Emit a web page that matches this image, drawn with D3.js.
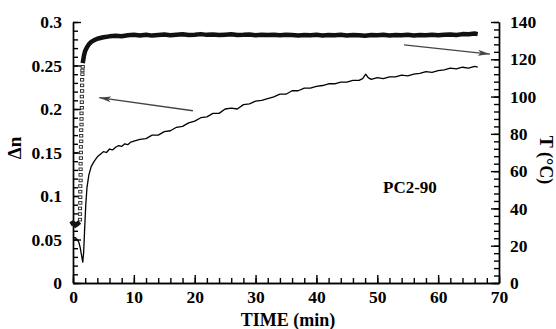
<!DOCTYPE html>
<html>
<head>
<meta charset="utf-8">
<script src="https://cdn.jsdelivr.net/npm/d3@7"></script>
<style>
  body { margin: 0; background: #fff; }
  text { font-family: "Liberation Serif", "Times New Roman", serif; font-weight: bold; }
</style>
</head>
<body>
<svg id="chart"></svg>
<script>
// birefringence (Δn) vs time, left axis
const dnTime = [0, 0.4, 0.8, 1.0, 1.2, 1.4, 1.6, 1.75, 1.9, 2.1, 2.3, 2.6, 3.0, 3.5, 4.0, 4.5, 5.0, 5.5, 6.0, 6.5, 7.0, 7.5, 8.0, 8.5, 9.0, 9.5,
  10, 11, 12, 13, 14, 15, 16, 17, 18, 19, 20, 21, 22, 23, 24, 25, 26, 27, 28, 29, 30, 31, 32, 33, 34, 35, 36, 37, 38, 39,
  40, 41, 42, 43, 44, 45, 46, 47, 47.6, 48.1, 48.5, 49, 50, 51, 52, 53, 54, 55, 56, 57, 58, 59, 60, 61, 62, 63, 64, 65, 66, 66.5];
const dnValue = [0.052, 0.052, 0.049, 0.046, 0.040, 0.032, 0.024, 0.035, 0.060, 0.090, 0.110, 0.124, 0.134, 0.140, 0.145, 0.148, 0.151, 0.150, 0.154, 0.153, 0.156, 0.158, 0.157, 0.160, 0.159, 0.162,
  0.163, 0.165, 0.166, 0.170, 0.170, 0.174, 0.175, 0.179, 0.180, 0.184, 0.186, 0.190, 0.191, 0.195, 0.195, 0.200, 0.201, 0.200, 0.205, 0.206, 0.209, 0.210, 0.212, 0.214, 0.217, 0.217, 0.221, 0.221, 0.224, 0.224,
  0.226, 0.227, 0.229, 0.229, 0.231, 0.231, 0.233, 0.233, 0.235, 0.240, 0.236, 0.234, 0.236, 0.235, 0.237, 0.237, 0.239, 0.238, 0.240, 0.241, 0.243, 0.242, 0.244, 0.245, 0.247, 0.246, 0.248, 0.247, 0.249, 0.248];

// temperature vs time, right axis (dense band)
const tempTime = [-0.4, 0, 0.4, 0.8, 1.05, 1.6, 1.8, 2.0, 2.3, 2.6, 3.0, 3.5, 4.0, 5, 6, 7, 8, 9, 10, 11, 12, 13, 14, 15, 16, 17, 18, 19,
  20, 21, 22, 23, 24, 25, 26, 27, 28, 29, 30, 31, 32, 33, 34, 35, 36, 37, 38, 39, 40, 41, 42, 43, 44, 45, 46, 47, 48, 49,
  50, 51, 52, 53, 54, 55, 56, 57, 58, 59, 60, 61, 62, 63, 64, 65, 66, 66.5];
const tempValue = [31.5, 32.3, 31.0, 32.0, 31.0, 118, 122, 124.5, 126.5, 128, 129.3, 130.3, 131, 131.8, 132.3, 132.6, 132.4, 132.9, 133.1, 132.8, 133.2, 132.7, 133.0, 133.3, 132.9, 133.2, 133.4, 133.0,
  133.2, 133.5, 133.1, 133.3, 133.0, 133.2, 133.4, 133.0, 133.1, 133.3, 132.9, 133.1, 133.0, 133.2, 132.9, 133.1, 133.0, 132.8, 133.0, 132.9, 133.1, 132.8, 133.0, 132.9, 133.1, 132.8, 133.0, 132.9, 132.6, 133.0,
  132.9, 133.1, 132.8, 133.0, 132.9, 133.1, 132.8, 133.0, 132.9, 133.2, 132.9, 133.1, 133.3, 133.0, 133.5, 133.4, 133.8, 133.5];

// sparse square markers during the fast heating step
const riseTime = [1.15, 1.15, 1.15, 1.2, 1.2, 1.2, 1.2, 1.25, 1.25, 1.25, 1.25, 1.3, 1.3, 1.3, 1.35, 1.35, 1.35, 1.4, 1.4, 1.4, 1.45, 1.45, 1.45, 1.5, 1.5, 1.5, 1.55, 1.55, 1.6];
const riseTemp = [34, 37, 40, 43, 46, 49, 52, 55, 58, 61, 64, 67, 70, 73, 76, 79, 82, 85, 88, 91, 94, 97, 100, 103, 106, 109, 112, 114, 116];

const xTicks = [0, 10, 20, 30, 40, 50, 60, 70];
const dnTicks = [0, 0.05, 0.1, 0.15, 0.2, 0.25, 0.3];
const tempTicks = [0, 20, 40, 60, 80, 100, 120, 140];

const width = 556, height = 329;
const plotLeft = 73, plotRight = 499, plotTop = 22, plotBottom = 283;

const svg = d3.select("#chart").attr("width", width).attr("height", height);

const x = d3.scaleLinear().domain([0, 70]).range([plotLeft, plotRight]);
const yL = d3.scaleLinear().domain([0, 0.3]).range([plotBottom, plotTop]);
const yR = d3.scaleLinear().domain([0, 140]).range([plotBottom, plotTop]);

// axes, ticks point inward
function styleAxis(g) {
  g.selectAll("path, line").attr("stroke", "#000").attr("stroke-width", 1.4);
  g.selectAll("text").attr("fill", "#000").attr("font-size", 17.5)
    .attr("font-family", "Liberation Serif").attr("font-weight", "bold");
}

svg.append("g").attr("transform", `translate(0,${plotBottom})`)
  .call(d3.axisBottom(x).tickValues(d3.range(0, 71, 2)).tickSize(-5).tickFormat("").tickSizeOuter(0))
  .call(styleAxis);
svg.append("g").attr("transform", `translate(0,${plotBottom})`)
  .call(d3.axisBottom(x).tickValues(xTicks).tickSize(-8).tickPadding(8).tickSizeOuter(0))
  .call(styleAxis);

svg.append("g").attr("transform", `translate(${plotLeft},0)`)
  .call(d3.axisLeft(yL).tickValues(d3.range(0, 31).map(d => d / 100)).tickSize(-5).tickFormat("").tickSizeOuter(0))
  .call(styleAxis);
svg.append("g").attr("transform", `translate(${plotLeft},0)`)
  .call(d3.axisLeft(yL).tickValues(dnTicks).tickSize(-8).tickPadding(11).tickSizeOuter(0).tickFormat(d => String(d)))
  .call(styleAxis);

svg.append("g").attr("transform", `translate(${plotRight},0)`)
  .call(d3.axisRight(yR).tickValues(d3.range(0, 141, 4)).tickSize(-5).tickFormat("").tickSizeOuter(0))
  .call(styleAxis);
svg.append("g").attr("transform", `translate(${plotRight},0)`)
  .call(d3.axisRight(yR).tickValues(tempTicks).tickSize(-8).tickPadding(11).tickSizeOuter(0))
  .call(styleAxis);

// temperature band
const tempLine = d3.line().x(d => x(d[0])).y(d => yR(d[1]));
const tempPts = tempTime.map((t, i) => [t, tempValue[i]]);
svg.append("path")
  .datum(tempPts.slice(0, 5))
  .attr("d", tempLine)
  .attr("fill", "none").attr("stroke", "#111").attr("stroke-width", 4.5);
svg.append("path")
  .datum(tempPts.slice(5))
  .attr("d", tempLine)
  .attr("fill", "none").attr("stroke", "#111").attr("stroke-width", 4.5)
  .attr("stroke-linejoin", "round");

svg.append("g").selectAll("rect")
  .data(riseTime.map((t, i) => [t, riseTemp[i]]))
  .join("rect")
  .attr("x", d => x(d[0]) - 1.6)
  .attr("y", d => yR(d[1]) - 1.3)
  .attr("width", 3.2).attr("height", 2.6)
  .attr("fill", "#fff").attr("stroke", "#222").attr("stroke-width", 0.9);

// birefringence line
const dnLine = d3.line().x(d => x(d[0])).y(d => yL(d[1]));
svg.append("path")
  .datum(dnTime.map((t, i) => [t, dnValue[i]]))
  .attr("d", dnLine)
  .attr("fill", "none").attr("stroke", "#000").attr("stroke-width", 1.3)
  .attr("stroke-linejoin", "round");

// arrows
svg.append("defs").append("marker")
  .attr("id", "head")
  .attr("viewBox", "0 0 12 6")
  .attr("refX", 12).attr("refY", 3)
  .attr("markerWidth", 12).attr("markerHeight", 6)
  .attr("markerUnits", "userSpaceOnUse")
  .attr("orient", "auto")
  .append("path")
  .attr("d", "M0,0 L12,3 L0,6 L3,3 Z")
  .attr("fill", "#444");

svg.append("line")
  .attr("x1", x(19.7)).attr("y1", yL(0.198))
  .attr("x2", x(4.3)).attr("y2", yL(0.213))
  .attr("stroke", "#444").attr("stroke-width", 1.3)
  .attr("marker-end", "url(#head)");
svg.append("line")
  .attr("x1", x(54.4)).attr("y1", yR(127.7))
  .attr("x2", x(68.5)).attr("y2", yR(122.8))
  .attr("stroke", "#444").attr("stroke-width", 1.3)
  .attr("marker-end", "url(#head)");

// labels
svg.append("text")
  .attr("transform", `translate(21,${148}) rotate(-90)`)
  .attr("text-anchor", "middle").attr("font-size", 19)
  .text("Δn");

svg.append("text")
  .attr("transform", `translate(540,${160}) rotate(90)`)
  .attr("text-anchor", "middle").attr("font-size", 18)
  .text("T (°C)");

svg.append("text")
  .attr("x", 288).attr("y", 326)
  .attr("text-anchor", "middle").attr("font-size", 18)
  .text("TIME (min)");

svg.append("text")
  .attr("x", 383).attr("y", 193)
  .attr("font-size", 17)
  .text("PC2-90");
</script>
</body>
</html>
